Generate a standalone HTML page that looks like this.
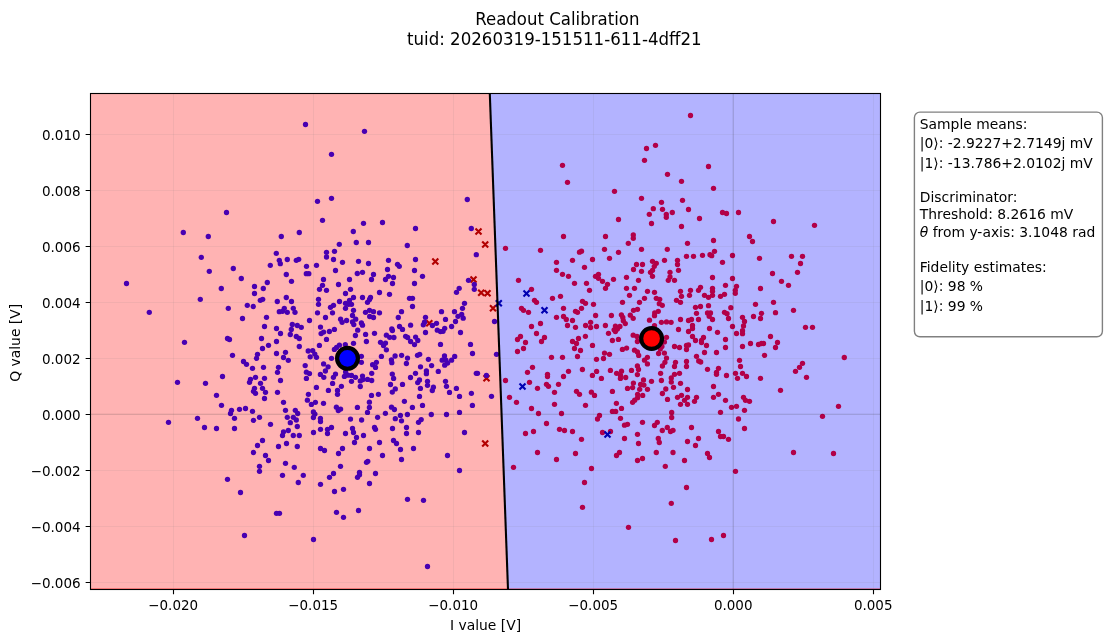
<!DOCTYPE html>
<html><head><meta charset="utf-8"><title>Readout Calibration</title>
<style>html,body{margin:0;padding:0;background:#fff;overflow:hidden}svg{display:block}</style></head>
<body>
<svg width="1106" height="642" viewBox="0 0 1106 642" style="display:block">
<rect width="1106" height="642" fill="#fff"/>
<polygon points="90.5,93.5 489.8,93.5 508.0,589.5 90.5,589.5" fill="#ffb3b3"/>
<polygon points="489.8,93.5 880.5,93.5 880.5,589.5 508.0,589.5" fill="#b3b3ff"/>
<line x1="90.5" y1="588.5" x2="880.5" y2="588.5" stroke="#ff0000" stroke-opacity="0.3" stroke-width="1"/>
<path d="M173.50,93.5V589.5M313.50,93.5V589.5M453.50,93.5V589.5M593.50,93.5V589.5M733.50,93.5V589.5M873.50,93.5V589.5" stroke="#808080" stroke-opacity="0.10" stroke-width="1.0" fill="none"/>
<path d="M90.5,134.50H880.5M90.5,190.50H880.5M90.5,246.50H880.5M90.5,302.50H880.5M90.5,358.50H880.5M90.5,414.50H880.5M90.5,470.50H880.5M90.5,526.50H880.5M90.5,582.50H880.5" stroke="#808080" stroke-opacity="0.10" stroke-width="1.0" fill="none"/>
<path d="M475.5,228.5L481.5,234.5M475.5,234.5L481.5,228.5M482.2,241.5L488.2,247.5M482.2,247.5L488.2,241.5M432.3,258.5L438.3,264.5M432.3,264.5L438.3,258.5M470.5,276.5L476.5,282.5M470.5,282.5L476.5,276.5M478.2,289.8L484.2,295.8M478.2,295.8L484.2,289.8M484.5,290.3L490.5,296.3M484.5,296.3L490.5,290.3M490.0,305.3L496.0,311.3M490.0,311.3L496.0,305.3M426.3,320.3L432.3,326.3M426.3,326.3L432.3,320.3M483.5,375.3L489.5,381.3M483.5,381.3L489.5,375.3M482.2,440.5L488.2,446.5M482.2,446.5L488.2,440.5" stroke="#b20000" stroke-width="2.15" fill="none"/>
<g fill="#4800b2">
<circle cx="305.5" cy="124.5" r="2.65"/>
<circle cx="364.5" cy="131.3" r="2.65"/>
<circle cx="331.5" cy="154.3" r="2.65"/>
<circle cx="331.5" cy="198.3" r="2.65"/>
<circle cx="317.5" cy="201.3" r="2.65"/>
<circle cx="467.3" cy="199.5" r="2.65"/>
<circle cx="226.5" cy="212.5" r="2.65"/>
<circle cx="183.3" cy="232.5" r="2.65"/>
<circle cx="208.3" cy="236.5" r="2.65"/>
<circle cx="281.3" cy="236.5" r="2.65"/>
<circle cx="299.3" cy="232.5" r="2.65"/>
<circle cx="201.3" cy="257.3" r="2.65"/>
<circle cx="276.3" cy="253.3" r="2.65"/>
<circle cx="279.3" cy="260.3" r="2.65"/>
<circle cx="280.3" cy="263.7" r="2.65"/>
<circle cx="287.3" cy="259.5" r="2.65"/>
<circle cx="296.3" cy="260.3" r="2.65"/>
<circle cx="298.7" cy="259.3" r="2.65"/>
<circle cx="270.3" cy="265.3" r="2.65"/>
<circle cx="233.3" cy="268.5" r="2.65"/>
<circle cx="209.3" cy="271.3" r="2.65"/>
<circle cx="286.3" cy="274.5" r="2.65"/>
<circle cx="241.3" cy="278.5" r="2.65"/>
<circle cx="291.5" cy="281.3" r="2.65"/>
<circle cx="267.3" cy="282.5" r="2.65"/>
<circle cx="126.5" cy="283.5" r="2.65"/>
<circle cx="254.5" cy="286.5" r="2.65"/>
<circle cx="263.3" cy="288.5" r="2.65"/>
<circle cx="221.3" cy="288.5" r="2.65"/>
<circle cx="254.5" cy="293.5" r="2.65"/>
<circle cx="200.3" cy="299.3" r="2.65"/>
<circle cx="260.3" cy="300.3" r="2.65"/>
<circle cx="262.7" cy="299.3" r="2.65"/>
<circle cx="286.3" cy="297.5" r="2.65"/>
<circle cx="277.3" cy="301.5" r="2.65"/>
<circle cx="291.5" cy="301.5" r="2.65"/>
<circle cx="247.3" cy="305.3" r="2.65"/>
<circle cx="253.3" cy="306.5" r="2.65"/>
<circle cx="228.3" cy="308.3" r="2.65"/>
<circle cx="293.3" cy="308.3" r="2.65"/>
<circle cx="284.3" cy="308.3" r="2.65"/>
<circle cx="279.3" cy="311.7" r="2.65"/>
<circle cx="282.5" cy="311.3" r="2.65"/>
<circle cx="149.3" cy="312.3" r="2.65"/>
<circle cx="287.3" cy="312.3" r="2.65"/>
<circle cx="295.0" cy="312.3" r="2.65"/>
<circle cx="322.5" cy="220.3" r="2.65"/>
<circle cx="363.5" cy="223.3" r="2.65"/>
<circle cx="382.5" cy="222.5" r="2.65"/>
<circle cx="415.5" cy="228.5" r="2.65"/>
<circle cx="353.3" cy="231.5" r="2.65"/>
<circle cx="471.3" cy="228.5" r="2.65"/>
<circle cx="356.3" cy="242.5" r="2.65"/>
<circle cx="368.5" cy="242.5" r="2.65"/>
<circle cx="339.3" cy="244.3" r="2.65"/>
<circle cx="407.3" cy="245.5" r="2.65"/>
<circle cx="334.5" cy="251.3" r="2.65"/>
<circle cx="326.5" cy="252.3" r="2.65"/>
<circle cx="326.5" cy="257.0" r="2.65"/>
<circle cx="476.3" cy="254.7" r="2.65"/>
<circle cx="333.5" cy="259.5" r="2.65"/>
<circle cx="342.5" cy="262.3" r="2.65"/>
<circle cx="358.5" cy="261.3" r="2.65"/>
<circle cx="368.5" cy="263.5" r="2.65"/>
<circle cx="388.5" cy="260.3" r="2.65"/>
<circle cx="415.5" cy="259.5" r="2.65"/>
<circle cx="397.5" cy="264.3" r="2.65"/>
<circle cx="399.3" cy="266.3" r="2.65"/>
<circle cx="316.5" cy="265.3" r="2.65"/>
<circle cx="306.5" cy="266.3" r="2.65"/>
<circle cx="335.5" cy="270.5" r="2.65"/>
<circle cx="387.5" cy="269.5" r="2.65"/>
<circle cx="414.5" cy="270.5" r="2.65"/>
<circle cx="306.3" cy="273.7" r="2.65"/>
<circle cx="308.8" cy="273.7" r="2.65"/>
<circle cx="357.3" cy="273.5" r="2.65"/>
<circle cx="362.5" cy="272.3" r="2.65"/>
<circle cx="373.5" cy="274.5" r="2.65"/>
<circle cx="422.5" cy="276.3" r="2.65"/>
<circle cx="388.5" cy="276.3" r="2.65"/>
<circle cx="393.5" cy="277.5" r="2.65"/>
<circle cx="385.5" cy="279.5" r="2.65"/>
<circle cx="371.5" cy="279.5" r="2.65"/>
<circle cx="349.5" cy="279.5" r="2.65"/>
<circle cx="323.5" cy="279.5" r="2.65"/>
<circle cx="468.5" cy="280.3" r="2.65"/>
<circle cx="392.5" cy="283.5" r="2.65"/>
<circle cx="414.5" cy="283.5" r="2.65"/>
<circle cx="338.5" cy="284.5" r="2.65"/>
<circle cx="322.5" cy="285.3" r="2.65"/>
<circle cx="474.3" cy="284.5" r="2.65"/>
<circle cx="319.5" cy="289.3" r="2.65"/>
<circle cx="326.5" cy="290.3" r="2.65"/>
<circle cx="350.5" cy="289.3" r="2.65"/>
<circle cx="459.2" cy="288.3" r="2.65"/>
<circle cx="474.3" cy="289.3" r="2.65"/>
<circle cx="456.5" cy="292.3" r="2.65"/>
<circle cx="379.5" cy="292.5" r="2.65"/>
<circle cx="389.5" cy="294.3" r="2.65"/>
<circle cx="345.5" cy="293.5" r="2.65"/>
<circle cx="353.5" cy="297.5" r="2.65"/>
<circle cx="362.5" cy="297.5" r="2.65"/>
<circle cx="370.5" cy="297.5" r="2.65"/>
<circle cx="369.5" cy="299.5" r="2.65"/>
<circle cx="367.5" cy="302.3" r="2.65"/>
<circle cx="409.5" cy="298.3" r="2.65"/>
<circle cx="412.5" cy="298.3" r="2.65"/>
<circle cx="318.5" cy="299.3" r="2.65"/>
<circle cx="349.5" cy="300.3" r="2.65"/>
<circle cx="339.5" cy="301.5" r="2.65"/>
<circle cx="318.5" cy="304.3" r="2.65"/>
<circle cx="464.5" cy="303.3" r="2.65"/>
<circle cx="345.5" cy="303.3" r="2.65"/>
<circle cx="348.5" cy="304.3" r="2.65"/>
<circle cx="351.5" cy="304.3" r="2.65"/>
<circle cx="333.5" cy="305.3" r="2.65"/>
<circle cx="330.5" cy="307.3" r="2.65"/>
<circle cx="412.5" cy="306.5" r="2.65"/>
<circle cx="345.5" cy="308.3" r="2.65"/>
<circle cx="462.5" cy="308.3" r="2.65"/>
<circle cx="353.5" cy="310.3" r="2.65"/>
<circle cx="401.5" cy="311.7" r="2.65"/>
<circle cx="441.5" cy="311.7" r="2.65"/>
<circle cx="454.5" cy="311.7" r="2.65"/>
<circle cx="369.5" cy="310.3" r="2.65"/>
<circle cx="373.5" cy="311.7" r="2.65"/>
<circle cx="365.5" cy="312.3" r="2.65"/>
<circle cx="379.5" cy="312.8" r="2.65"/>
<circle cx="317.5" cy="312.8" r="2.65"/>
<circle cx="332.5" cy="312.8" r="2.65"/>
<circle cx="242.5" cy="318.5" r="2.65"/>
<circle cx="266.5" cy="317.3" r="2.65"/>
<circle cx="264.5" cy="326.5" r="2.65"/>
<circle cx="276.5" cy="328.5" r="2.65"/>
<circle cx="292.3" cy="324.5" r="2.65"/>
<circle cx="297.3" cy="325.5" r="2.65"/>
<circle cx="301.3" cy="327.3" r="2.65"/>
<circle cx="291.3" cy="329.5" r="2.65"/>
<circle cx="280.5" cy="333.5" r="2.65"/>
<circle cx="290.3" cy="334.5" r="2.65"/>
<circle cx="296.3" cy="336.5" r="2.65"/>
<circle cx="299.3" cy="338.5" r="2.65"/>
<circle cx="227.5" cy="338.5" r="2.65"/>
<circle cx="229.5" cy="339.5" r="2.65"/>
<circle cx="184.5" cy="342.3" r="2.65"/>
<circle cx="261.5" cy="338.5" r="2.65"/>
<circle cx="276.5" cy="341.5" r="2.65"/>
<circle cx="268.5" cy="345.3" r="2.65"/>
<circle cx="299.3" cy="346.5" r="2.65"/>
<circle cx="262.5" cy="348.5" r="2.65"/>
<circle cx="232.5" cy="355.3" r="2.65"/>
<circle cx="257.5" cy="354.3" r="2.65"/>
<circle cx="256.5" cy="358.3" r="2.65"/>
<circle cx="276.5" cy="353.5" r="2.65"/>
<circle cx="285.5" cy="352.3" r="2.65"/>
<circle cx="283.5" cy="357.5" r="2.65"/>
<circle cx="288.3" cy="360.3" r="2.65"/>
<circle cx="243.5" cy="361.5" r="2.65"/>
<circle cx="246.5" cy="364.3" r="2.65"/>
<circle cx="252.5" cy="368.3" r="2.65"/>
<circle cx="263.5" cy="367.3" r="2.65"/>
<circle cx="278.5" cy="367.3" r="2.65"/>
<circle cx="277.5" cy="372.3" r="2.65"/>
<circle cx="222.5" cy="376.5" r="2.65"/>
<circle cx="255.5" cy="377.3" r="2.65"/>
<circle cx="250.5" cy="379.3" r="2.65"/>
<circle cx="264.5" cy="378.3" r="2.65"/>
<circle cx="280.5" cy="380.5" r="2.65"/>
<circle cx="249.5" cy="382.3" r="2.65"/>
<circle cx="260.5" cy="383.3" r="2.65"/>
<circle cx="177.5" cy="382.3" r="2.65"/>
<circle cx="205.5" cy="383.3" r="2.65"/>
<circle cx="254.5" cy="388.3" r="2.65"/>
<circle cx="262.5" cy="388.3" r="2.65"/>
<circle cx="253.5" cy="391.3" r="2.65"/>
<circle cx="255.5" cy="393.3" r="2.65"/>
<circle cx="265.5" cy="392.3" r="2.65"/>
<circle cx="277.5" cy="392.3" r="2.65"/>
<circle cx="216.5" cy="395.3" r="2.65"/>
<circle cx="264.5" cy="398.5" r="2.65"/>
<circle cx="283.5" cy="402.3" r="2.65"/>
<circle cx="221.5" cy="405.3" r="2.65"/>
<circle cx="231.5" cy="410.3" r="2.65"/>
<circle cx="239.5" cy="409.3" r="2.65"/>
<circle cx="245.5" cy="408.5" r="2.65"/>
<circle cx="252.5" cy="411.3" r="2.65"/>
<circle cx="285.5" cy="410.3" r="2.65"/>
<circle cx="295.3" cy="410.3" r="2.65"/>
<circle cx="297.7" cy="413.5" r="2.65"/>
<circle cx="230.5" cy="413.5" r="2.65"/>
<circle cx="197.5" cy="418.3" r="2.65"/>
<circle cx="234.5" cy="418.3" r="2.65"/>
<circle cx="259.5" cy="417.3" r="2.65"/>
<circle cx="287.3" cy="417.3" r="2.65"/>
<circle cx="293.3" cy="417.3" r="2.65"/>
<circle cx="168.5" cy="422.3" r="2.65"/>
<circle cx="253.5" cy="420.3" r="2.65"/>
<circle cx="296.3" cy="420.0" r="2.65"/>
<circle cx="325.5" cy="317.5" r="2.65"/>
<circle cx="352.5" cy="315.5" r="2.65"/>
<circle cx="369.7" cy="316.5" r="2.65"/>
<circle cx="373.5" cy="317.5" r="2.65"/>
<circle cx="309.5" cy="320.5" r="2.65"/>
<circle cx="340.6" cy="319.2" r="2.65"/>
<circle cx="346.6" cy="320.5" r="2.65"/>
<circle cx="342.1" cy="322.3" r="2.65"/>
<circle cx="355.7" cy="319.2" r="2.65"/>
<circle cx="352.5" cy="321.9" r="2.65"/>
<circle cx="353.8" cy="324.6" r="2.65"/>
<circle cx="361.4" cy="323.0" r="2.65"/>
<circle cx="362.5" cy="325.2" r="2.65"/>
<circle cx="320.5" cy="327.1" r="2.65"/>
<circle cx="334.4" cy="329.4" r="2.65"/>
<circle cx="329.4" cy="331.5" r="2.65"/>
<circle cx="323.6" cy="332.1" r="2.65"/>
<circle cx="321.1" cy="333.6" r="2.65"/>
<circle cx="357.7" cy="330.2" r="2.65"/>
<circle cx="355.4" cy="335.5" r="2.65"/>
<circle cx="365.6" cy="334.4" r="2.65"/>
<circle cx="374.5" cy="333.3" r="2.65"/>
<circle cx="391.8" cy="329.0" r="2.65"/>
<circle cx="392.4" cy="330.5" r="2.65"/>
<circle cx="386.4" cy="335.2" r="2.65"/>
<circle cx="389.7" cy="337.3" r="2.65"/>
<circle cx="393.9" cy="337.5" r="2.65"/>
<circle cx="326.5" cy="339.4" r="2.65"/>
<circle cx="366.4" cy="341.5" r="2.65"/>
<circle cx="353.5" cy="343.3" r="2.65"/>
<circle cx="380.5" cy="342.3" r="2.65"/>
<circle cx="385.5" cy="343.1" r="2.65"/>
<circle cx="383.5" cy="345.6" r="2.65"/>
<circle cx="386.4" cy="349.8" r="2.65"/>
<circle cx="319.4" cy="345.4" r="2.65"/>
<circle cx="339.4" cy="345.2" r="2.65"/>
<circle cx="345.3" cy="344.6" r="2.65"/>
<circle cx="334.4" cy="349.4" r="2.65"/>
<circle cx="336.6" cy="347.4" r="2.65"/>
<circle cx="308.2" cy="351.0" r="2.65"/>
<circle cx="312.7" cy="350.6" r="2.65"/>
<circle cx="314.8" cy="354.1" r="2.65"/>
<circle cx="310.2" cy="356.8" r="2.65"/>
<circle cx="316.5" cy="357.3" r="2.65"/>
<circle cx="331.5" cy="358.3" r="2.65"/>
<circle cx="361.4" cy="356.3" r="2.65"/>
<circle cx="381.4" cy="356.4" r="2.65"/>
<circle cx="395.1" cy="356.0" r="2.65"/>
<circle cx="361.4" cy="362.3" r="2.65"/>
<circle cx="323.6" cy="363.9" r="2.65"/>
<circle cx="376.4" cy="362.3" r="2.65"/>
<circle cx="372.6" cy="364.7" r="2.65"/>
<circle cx="391.4" cy="359.8" r="2.65"/>
<circle cx="391.8" cy="362.7" r="2.65"/>
<circle cx="305.2" cy="365.6" r="2.65"/>
<circle cx="328.1" cy="366.8" r="2.65"/>
<circle cx="398.3" cy="317.5" r="2.65"/>
<circle cx="425.5" cy="317.3" r="2.65"/>
<circle cx="445.5" cy="319.4" r="2.65"/>
<circle cx="458.0" cy="316.3" r="2.65"/>
<circle cx="461.7" cy="314.4" r="2.65"/>
<circle cx="463.2" cy="318.2" r="2.65"/>
<circle cx="455.5" cy="321.5" r="2.65"/>
<circle cx="424.5" cy="322.2" r="2.65"/>
<circle cx="423.3" cy="324.8" r="2.65"/>
<circle cx="436.5" cy="323.3" r="2.65"/>
<circle cx="432.4" cy="325.5" r="2.65"/>
<circle cx="399.5" cy="326.5" r="2.65"/>
<circle cx="402.5" cy="329.4" r="2.65"/>
<circle cx="410.6" cy="325.2" r="2.65"/>
<circle cx="451.6" cy="326.5" r="2.65"/>
<circle cx="444.7" cy="328.3" r="2.65"/>
<circle cx="437.3" cy="330.2" r="2.65"/>
<circle cx="440.5" cy="331.6" r="2.65"/>
<circle cx="443.0" cy="331.3" r="2.65"/>
<circle cx="425.5" cy="332.5" r="2.65"/>
<circle cx="460.5" cy="332.5" r="2.65"/>
<circle cx="405.6" cy="336.3" r="2.65"/>
<circle cx="407.6" cy="337.5" r="2.65"/>
<circle cx="415.6" cy="337.1" r="2.65"/>
<circle cx="417.8" cy="340.5" r="2.65"/>
<circle cx="410.6" cy="341.5" r="2.65"/>
<circle cx="414.5" cy="344.6" r="2.65"/>
<circle cx="440.5" cy="344.4" r="2.65"/>
<circle cx="470.5" cy="344.4" r="2.65"/>
<circle cx="472.5" cy="353.5" r="2.65"/>
<circle cx="401.6" cy="355.3" r="2.65"/>
<circle cx="407.5" cy="358.1" r="2.65"/>
<circle cx="406.4" cy="363.5" r="2.65"/>
<circle cx="417.5" cy="355.3" r="2.65"/>
<circle cx="419.7" cy="354.3" r="2.65"/>
<circle cx="428.4" cy="359.3" r="2.65"/>
<circle cx="444.5" cy="356.0" r="2.65"/>
<circle cx="454.7" cy="356.4" r="2.65"/>
<circle cx="442.2" cy="360.2" r="2.65"/>
<circle cx="445.9" cy="360.2" r="2.65"/>
<circle cx="451.6" cy="360.2" r="2.65"/>
<circle cx="447.6" cy="363.1" r="2.65"/>
<circle cx="444.7" cy="365.2" r="2.65"/>
<circle cx="431.6" cy="365.6" r="2.65"/>
<circle cx="420.5" cy="366.8" r="2.65"/>
<circle cx="306.4" cy="372.2" r="2.65"/>
<circle cx="309.5" cy="373.6" r="2.65"/>
<circle cx="306.4" cy="378.4" r="2.65"/>
<circle cx="325.4" cy="371.0" r="2.65"/>
<circle cx="320.4" cy="374.4" r="2.65"/>
<circle cx="323.8" cy="377.3" r="2.65"/>
<circle cx="335.5" cy="374.1" r="2.65"/>
<circle cx="333.4" cy="377.3" r="2.65"/>
<circle cx="344.4" cy="376.4" r="2.65"/>
<circle cx="347.9" cy="375.2" r="2.65"/>
<circle cx="345.6" cy="372.0" r="2.65"/>
<circle cx="351.5" cy="375.4" r="2.65"/>
<circle cx="355.5" cy="377.3" r="2.65"/>
<circle cx="351.5" cy="381.3" r="2.65"/>
<circle cx="362.5" cy="376.1" r="2.65"/>
<circle cx="360.3" cy="380.9" r="2.65"/>
<circle cx="362.9" cy="379.6" r="2.65"/>
<circle cx="367.5" cy="379.4" r="2.65"/>
<circle cx="371.7" cy="380.5" r="2.65"/>
<circle cx="371.7" cy="373.3" r="2.65"/>
<circle cx="360.3" cy="386.5" r="2.65"/>
<circle cx="375.5" cy="367.4" r="2.65"/>
<circle cx="392.3" cy="374.1" r="2.65"/>
<circle cx="393.6" cy="378.4" r="2.65"/>
<circle cx="390.5" cy="384.5" r="2.65"/>
<circle cx="395.3" cy="388.9" r="2.65"/>
<circle cx="392.3" cy="392.1" r="2.65"/>
<circle cx="332.6" cy="383.4" r="2.65"/>
<circle cx="316.4" cy="387.4" r="2.65"/>
<circle cx="341.4" cy="386.3" r="2.65"/>
<circle cx="328.4" cy="390.4" r="2.65"/>
<circle cx="337.5" cy="390.5" r="2.65"/>
<circle cx="337.5" cy="394.3" r="2.65"/>
<circle cx="308.4" cy="394.3" r="2.65"/>
<circle cx="371.5" cy="395.4" r="2.65"/>
<circle cx="378.4" cy="394.3" r="2.65"/>
<circle cx="307.4" cy="400.2" r="2.65"/>
<circle cx="315.4" cy="402.3" r="2.65"/>
<circle cx="311.4" cy="404.4" r="2.65"/>
<circle cx="323.5" cy="403.3" r="2.65"/>
<circle cx="369.4" cy="402.2" r="2.65"/>
<circle cx="369.4" cy="407.4" r="2.65"/>
<circle cx="367.5" cy="412.4" r="2.65"/>
<circle cx="357.4" cy="407.4" r="2.65"/>
<circle cx="336.4" cy="407.2" r="2.65"/>
<circle cx="340.6" cy="409.1" r="2.65"/>
<circle cx="338.3" cy="410.6" r="2.65"/>
<circle cx="391.5" cy="407.2" r="2.65"/>
<circle cx="394.4" cy="409.5" r="2.65"/>
<circle cx="385.4" cy="413.3" r="2.65"/>
<circle cx="377.6" cy="417.3" r="2.65"/>
<circle cx="313.4" cy="412.0" r="2.65"/>
<circle cx="314.9" cy="414.1" r="2.65"/>
<circle cx="313.4" cy="417.5" r="2.65"/>
<circle cx="320.4" cy="418.3" r="2.65"/>
<circle cx="350.5" cy="419.1" r="2.65"/>
<circle cx="361.6" cy="420.0" r="2.65"/>
<circle cx="395.3" cy="418.7" r="2.65"/>
<circle cx="426.4" cy="371.0" r="2.65"/>
<circle cx="426.4" cy="373.7" r="2.65"/>
<circle cx="438.3" cy="371.4" r="2.65"/>
<circle cx="415.5" cy="373.3" r="2.65"/>
<circle cx="410.5" cy="377.5" r="2.65"/>
<circle cx="476.3" cy="373.3" r="2.65"/>
<circle cx="477.5" cy="373.3" r="2.65"/>
<circle cx="486.4" cy="375.4" r="2.65"/>
<circle cx="419.5" cy="380.0" r="2.65"/>
<circle cx="417.7" cy="382.6" r="2.65"/>
<circle cx="427.5" cy="381.3" r="2.65"/>
<circle cx="427.5" cy="385.3" r="2.65"/>
<circle cx="420.4" cy="388.4" r="2.65"/>
<circle cx="433.4" cy="387.2" r="2.65"/>
<circle cx="432.3" cy="390.5" r="2.65"/>
<circle cx="445.5" cy="381.3" r="2.65"/>
<circle cx="446.5" cy="386.3" r="2.65"/>
<circle cx="449.5" cy="392.4" r="2.65"/>
<circle cx="456.4" cy="388.4" r="2.65"/>
<circle cx="459.5" cy="396.4" r="2.65"/>
<circle cx="471.4" cy="393.3" r="2.65"/>
<circle cx="402.5" cy="384.4" r="2.65"/>
<circle cx="419.5" cy="396.4" r="2.65"/>
<circle cx="404.4" cy="401.3" r="2.65"/>
<circle cx="422.5" cy="405.4" r="2.65"/>
<circle cx="412.4" cy="407.4" r="2.65"/>
<circle cx="472.4" cy="405.4" r="2.65"/>
<circle cx="459.5" cy="412.4" r="2.65"/>
<circle cx="446.5" cy="414.5" r="2.65"/>
<circle cx="431.3" cy="414.5" r="2.65"/>
<circle cx="407.4" cy="414.5" r="2.65"/>
<circle cx="400.4" cy="415.4" r="2.65"/>
<circle cx="401.5" cy="420.8" r="2.65"/>
<circle cx="421.2" cy="419.6" r="2.65"/>
<circle cx="494.5" cy="321.5" r="2.65"/>
<circle cx="496.5" cy="354.3" r="2.65"/>
<circle cx="491.5" cy="396.3" r="2.65"/>
<circle cx="270.5" cy="424.3" r="2.65"/>
<circle cx="290.3" cy="422.7" r="2.65"/>
<circle cx="297.3" cy="426.5" r="2.65"/>
<circle cx="204.5" cy="427.5" r="2.65"/>
<circle cx="216.5" cy="428.5" r="2.65"/>
<circle cx="234.5" cy="428.5" r="2.65"/>
<circle cx="288.3" cy="430.5" r="2.65"/>
<circle cx="283.5" cy="431.8" r="2.65"/>
<circle cx="282.5" cy="435.5" r="2.65"/>
<circle cx="293.3" cy="435.5" r="2.65"/>
<circle cx="299.3" cy="435.5" r="2.65"/>
<circle cx="262.5" cy="440.5" r="2.65"/>
<circle cx="257.5" cy="445.5" r="2.65"/>
<circle cx="286.5" cy="443.5" r="2.65"/>
<circle cx="278.5" cy="446.5" r="2.65"/>
<circle cx="297.3" cy="446.5" r="2.65"/>
<circle cx="253.5" cy="452.5" r="2.65"/>
<circle cx="265.5" cy="455.5" r="2.65"/>
<circle cx="268.5" cy="460.5" r="2.65"/>
<circle cx="259.5" cy="466.3" r="2.65"/>
<circle cx="259.5" cy="471.3" r="2.65"/>
<circle cx="285.5" cy="463.3" r="2.65"/>
<circle cx="294.3" cy="467.3" r="2.65"/>
<circle cx="282.5" cy="475.3" r="2.65"/>
<circle cx="303.3" cy="475.3" r="2.65"/>
<circle cx="298.3" cy="482.5" r="2.65"/>
<circle cx="227.5" cy="479.3" r="2.65"/>
<circle cx="240.5" cy="492.5" r="2.65"/>
<circle cx="276.5" cy="513.3" r="2.65"/>
<circle cx="279.5" cy="513.3" r="2.65"/>
<circle cx="418.5" cy="422.3" r="2.65"/>
<circle cx="320.5" cy="421.5" r="2.65"/>
<circle cx="313.5" cy="432.5" r="2.65"/>
<circle cx="320.5" cy="429.3" r="2.65"/>
<circle cx="327.5" cy="429.3" r="2.65"/>
<circle cx="331.5" cy="427.5" r="2.65"/>
<circle cx="327.5" cy="433.5" r="2.65"/>
<circle cx="345.5" cy="433.5" r="2.65"/>
<circle cx="352.5" cy="428.5" r="2.65"/>
<circle cx="353.5" cy="432.5" r="2.65"/>
<circle cx="356.5" cy="437.5" r="2.65"/>
<circle cx="363.5" cy="435.5" r="2.65"/>
<circle cx="354.5" cy="442.5" r="2.65"/>
<circle cx="374.5" cy="427.5" r="2.65"/>
<circle cx="375.5" cy="429.3" r="2.65"/>
<circle cx="392.5" cy="428.5" r="2.65"/>
<circle cx="406.5" cy="427.5" r="2.65"/>
<circle cx="406.5" cy="433.5" r="2.65"/>
<circle cx="418.5" cy="432.5" r="2.65"/>
<circle cx="464.5" cy="432.5" r="2.65"/>
<circle cx="379.5" cy="442.5" r="2.65"/>
<circle cx="393.5" cy="440.5" r="2.65"/>
<circle cx="396.5" cy="443.5" r="2.65"/>
<circle cx="400.5" cy="449.5" r="2.65"/>
<circle cx="413.5" cy="448.5" r="2.65"/>
<circle cx="369.5" cy="448.5" r="2.65"/>
<circle cx="382.5" cy="455.5" r="2.65"/>
<circle cx="401.5" cy="459.5" r="2.65"/>
<circle cx="447.5" cy="455.5" r="2.65"/>
<circle cx="320.5" cy="448.5" r="2.65"/>
<circle cx="324.5" cy="450.5" r="2.65"/>
<circle cx="342.5" cy="448.5" r="2.65"/>
<circle cx="338.5" cy="453.5" r="2.65"/>
<circle cx="366.5" cy="462.3" r="2.65"/>
<circle cx="367.8" cy="461.3" r="2.65"/>
<circle cx="340.5" cy="466.3" r="2.65"/>
<circle cx="459.5" cy="470.5" r="2.65"/>
<circle cx="333.5" cy="473.5" r="2.65"/>
<circle cx="329.5" cy="477.3" r="2.65"/>
<circle cx="359.5" cy="472.3" r="2.65"/>
<circle cx="359.5" cy="474.7" r="2.65"/>
<circle cx="357.5" cy="477.3" r="2.65"/>
<circle cx="375.5" cy="473.5" r="2.65"/>
<circle cx="369.5" cy="483.5" r="2.65"/>
<circle cx="320.5" cy="484.3" r="2.65"/>
<circle cx="343.5" cy="489.3" r="2.65"/>
<circle cx="334.5" cy="491.5" r="2.65"/>
<circle cx="407.5" cy="499.3" r="2.65"/>
<circle cx="423.5" cy="500.3" r="2.65"/>
<circle cx="358.5" cy="510.5" r="2.65"/>
<circle cx="336.5" cy="512.3" r="2.65"/>
<circle cx="343.5" cy="517.3" r="2.65"/>
<circle cx="244.5" cy="535.5" r="2.65"/>
<circle cx="313.5" cy="539.5" r="2.65"/>
<circle cx="427.5" cy="566.5" r="2.65"/>
</g>
<g fill="#b20048">
<circle cx="690.5" cy="115.5" r="2.65"/>
<circle cx="655.5" cy="145.3" r="2.65"/>
<circle cx="646.5" cy="148.5" r="2.65"/>
<circle cx="644.5" cy="160.3" r="2.65"/>
<circle cx="562.5" cy="165.3" r="2.65"/>
<circle cx="708.5" cy="166.5" r="2.65"/>
<circle cx="667.5" cy="174.3" r="2.65"/>
<circle cx="681.5" cy="181.3" r="2.65"/>
<circle cx="567.5" cy="182.3" r="2.65"/>
<circle cx="713.5" cy="188.3" r="2.65"/>
<circle cx="614.5" cy="191.3" r="2.65"/>
<circle cx="641.5" cy="198.3" r="2.65"/>
<circle cx="682.5" cy="200.3" r="2.65"/>
<circle cx="661.5" cy="202.3" r="2.65"/>
<circle cx="653.3" cy="208.7" r="2.65"/>
<circle cx="662.5" cy="209.3" r="2.65"/>
<circle cx="672.3" cy="212.5" r="2.65"/>
<circle cx="649.3" cy="214.3" r="2.65"/>
<circle cx="666.3" cy="214.5" r="2.65"/>
<circle cx="666.3" cy="217.3" r="2.65"/>
<circle cx="651.5" cy="223.5" r="2.65"/>
<circle cx="618.5" cy="219.5" r="2.65"/>
<circle cx="563.5" cy="236.5" r="2.65"/>
<circle cx="605.5" cy="236.5" r="2.65"/>
<circle cx="633.3" cy="235.0" r="2.65"/>
<circle cx="633.3" cy="238.3" r="2.65"/>
<circle cx="628.3" cy="243.3" r="2.65"/>
<circle cx="505.5" cy="248.3" r="2.65"/>
<circle cx="540.5" cy="250.3" r="2.65"/>
<circle cx="604.5" cy="249.3" r="2.65"/>
<circle cx="618.5" cy="252.3" r="2.65"/>
<circle cx="641.5" cy="249.3" r="2.65"/>
<circle cx="667.3" cy="249.3" r="2.65"/>
<circle cx="579.5" cy="252.2" r="2.65"/>
<circle cx="581.5" cy="251.2" r="2.65"/>
<circle cx="609.5" cy="258.3" r="2.65"/>
<circle cx="592.5" cy="259.5" r="2.65"/>
<circle cx="572.5" cy="260.3" r="2.65"/>
<circle cx="556.5" cy="262.3" r="2.65"/>
<circle cx="664.5" cy="260.3" r="2.65"/>
<circle cx="652.5" cy="261.3" r="2.65"/>
<circle cx="656.3" cy="263.3" r="2.65"/>
<circle cx="654.3" cy="266.3" r="2.65"/>
<circle cx="636.5" cy="264.5" r="2.65"/>
<circle cx="642.5" cy="264.5" r="2.65"/>
<circle cx="584.5" cy="267.3" r="2.65"/>
<circle cx="556.5" cy="270.3" r="2.65"/>
<circle cx="633.5" cy="269.5" r="2.65"/>
<circle cx="641.5" cy="271.3" r="2.65"/>
<circle cx="652.5" cy="270.3" r="2.65"/>
<circle cx="650.5" cy="272.3" r="2.65"/>
<circle cx="670.0" cy="272.3" r="2.65"/>
<circle cx="652.5" cy="276.3" r="2.65"/>
<circle cx="562.5" cy="274.3" r="2.65"/>
<circle cx="568.5" cy="276.3" r="2.65"/>
<circle cx="598.5" cy="274.3" r="2.65"/>
<circle cx="595.5" cy="276.3" r="2.65"/>
<circle cx="598.5" cy="278.3" r="2.65"/>
<circle cx="602.5" cy="281.3" r="2.65"/>
<circle cx="613.5" cy="279.3" r="2.65"/>
<circle cx="626.5" cy="277.3" r="2.65"/>
<circle cx="638.5" cy="280.3" r="2.65"/>
<circle cx="670.0" cy="277.0" r="2.65"/>
<circle cx="668.3" cy="280.3" r="2.65"/>
<circle cx="518.5" cy="280.3" r="2.65"/>
<circle cx="574.5" cy="283.3" r="2.65"/>
<circle cx="586.5" cy="283.3" r="2.65"/>
<circle cx="607.5" cy="284.3" r="2.65"/>
<circle cx="605.5" cy="288.3" r="2.65"/>
<circle cx="589.5" cy="290.3" r="2.65"/>
<circle cx="626.5" cy="288.3" r="2.65"/>
<circle cx="634.5" cy="288.3" r="2.65"/>
<circle cx="531.5" cy="289.3" r="2.65"/>
<circle cx="647.5" cy="291.3" r="2.65"/>
<circle cx="654.5" cy="292.3" r="2.65"/>
<circle cx="629.5" cy="295.3" r="2.65"/>
<circle cx="560.5" cy="296.3" r="2.65"/>
<circle cx="552.5" cy="298.3" r="2.65"/>
<circle cx="644.5" cy="298.3" r="2.65"/>
<circle cx="656.3" cy="298.3" r="2.65"/>
<circle cx="659.7" cy="299.3" r="2.65"/>
<circle cx="534.5" cy="300.3" r="2.65"/>
<circle cx="536.5" cy="302.3" r="2.65"/>
<circle cx="582.5" cy="301.3" r="2.65"/>
<circle cx="585.5" cy="303.3" r="2.65"/>
<circle cx="593.5" cy="304.3" r="2.65"/>
<circle cx="622.5" cy="302.3" r="2.65"/>
<circle cx="639.5" cy="302.3" r="2.65"/>
<circle cx="659.3" cy="303.7" r="2.65"/>
<circle cx="662.3" cy="305.3" r="2.65"/>
<circle cx="521.5" cy="308.3" r="2.65"/>
<circle cx="523.5" cy="310.3" r="2.65"/>
<circle cx="528.5" cy="312.3" r="2.65"/>
<circle cx="563.5" cy="308.3" r="2.65"/>
<circle cx="581.5" cy="308.3" r="2.65"/>
<circle cx="575.5" cy="311.3" r="2.65"/>
<circle cx="577.5" cy="312.3" r="2.65"/>
<circle cx="633.5" cy="310.3" r="2.65"/>
<circle cx="637.5" cy="309.3" r="2.65"/>
<circle cx="658.3" cy="311.3" r="2.65"/>
<circle cx="654.7" cy="313.0" r="2.65"/>
<circle cx="688.5" cy="209.5" r="2.65"/>
<circle cx="722.5" cy="212.5" r="2.65"/>
<circle cx="726.5" cy="213.5" r="2.65"/>
<circle cx="738.5" cy="212.5" r="2.65"/>
<circle cx="699.5" cy="218.5" r="2.65"/>
<circle cx="773.5" cy="221.5" r="2.65"/>
<circle cx="814.5" cy="225.3" r="2.65"/>
<circle cx="681.5" cy="226.5" r="2.65"/>
<circle cx="749.5" cy="236.5" r="2.65"/>
<circle cx="752.5" cy="241.5" r="2.65"/>
<circle cx="713.5" cy="240.5" r="2.65"/>
<circle cx="687.5" cy="243.3" r="2.65"/>
<circle cx="714.5" cy="251.3" r="2.65"/>
<circle cx="710.0" cy="254.7" r="2.65"/>
<circle cx="711.7" cy="255.7" r="2.65"/>
<circle cx="702.5" cy="255.3" r="2.65"/>
<circle cx="693.5" cy="256.3" r="2.65"/>
<circle cx="686.5" cy="256.3" r="2.65"/>
<circle cx="732.5" cy="255.5" r="2.65"/>
<circle cx="759.5" cy="258.3" r="2.65"/>
<circle cx="791.5" cy="256.3" r="2.65"/>
<circle cx="802.5" cy="256.3" r="2.65"/>
<circle cx="677.5" cy="260.3" r="2.65"/>
<circle cx="677.5" cy="264.5" r="2.65"/>
<circle cx="722.5" cy="262.3" r="2.65"/>
<circle cx="800.5" cy="263.5" r="2.65"/>
<circle cx="678.5" cy="270.3" r="2.65"/>
<circle cx="772.5" cy="273.5" r="2.65"/>
<circle cx="797.5" cy="272.3" r="2.65"/>
<circle cx="712.5" cy="277.5" r="2.65"/>
<circle cx="732.5" cy="278.5" r="2.65"/>
<circle cx="674.5" cy="280.3" r="2.65"/>
<circle cx="781.5" cy="281.3" r="2.65"/>
<circle cx="788.5" cy="285.3" r="2.65"/>
<circle cx="725.5" cy="285.3" r="2.65"/>
<circle cx="736.5" cy="286.3" r="2.65"/>
<circle cx="735.3" cy="290.3" r="2.65"/>
<circle cx="735.3" cy="293.3" r="2.65"/>
<circle cx="760.5" cy="288.5" r="2.65"/>
<circle cx="700.5" cy="287.3" r="2.65"/>
<circle cx="698.5" cy="290.3" r="2.65"/>
<circle cx="712.5" cy="288.3" r="2.65"/>
<circle cx="712.5" cy="291.3" r="2.65"/>
<circle cx="690.5" cy="290.3" r="2.65"/>
<circle cx="680.5" cy="291.3" r="2.65"/>
<circle cx="689.5" cy="295.3" r="2.65"/>
<circle cx="681.5" cy="296.3" r="2.65"/>
<circle cx="704.5" cy="295.3" r="2.65"/>
<circle cx="708.5" cy="297.3" r="2.65"/>
<circle cx="712.5" cy="295.3" r="2.65"/>
<circle cx="720.5" cy="296.3" r="2.65"/>
<circle cx="724.5" cy="294.3" r="2.65"/>
<circle cx="676.5" cy="300.3" r="2.65"/>
<circle cx="680.5" cy="302.3" r="2.65"/>
<circle cx="755.5" cy="304.3" r="2.65"/>
<circle cx="773.5" cy="302.3" r="2.65"/>
<circle cx="708.5" cy="305.7" r="2.65"/>
<circle cx="700.5" cy="306.5" r="2.65"/>
<circle cx="695.5" cy="307.3" r="2.65"/>
<circle cx="730.8" cy="307.7" r="2.65"/>
<circle cx="793.5" cy="310.3" r="2.65"/>
<circle cx="696.5" cy="313.3" r="2.65"/>
<circle cx="707.5" cy="313.0" r="2.65"/>
<circle cx="710.5" cy="313.0" r="2.65"/>
<circle cx="724.5" cy="312.3" r="2.65"/>
<circle cx="761.5" cy="313.3" r="2.65"/>
<circle cx="775.5" cy="312.7" r="2.65"/>
<circle cx="556.5" cy="317.3" r="2.65"/>
<circle cx="563.5" cy="316.5" r="2.65"/>
<circle cx="566.3" cy="319.5" r="2.65"/>
<circle cx="572.5" cy="320.5" r="2.65"/>
<circle cx="540.5" cy="323.5" r="2.65"/>
<circle cx="531.5" cy="326.5" r="2.65"/>
<circle cx="567.5" cy="325.5" r="2.65"/>
<circle cx="575.5" cy="327.3" r="2.65"/>
<circle cx="520.5" cy="336.5" r="2.65"/>
<circle cx="517.5" cy="339.5" r="2.65"/>
<circle cx="536.5" cy="333.5" r="2.65"/>
<circle cx="544.5" cy="337.5" r="2.65"/>
<circle cx="541.5" cy="341.5" r="2.65"/>
<circle cx="525.5" cy="342.5" r="2.65"/>
<circle cx="523.5" cy="348.5" r="2.65"/>
<circle cx="517.5" cy="351.5" r="2.65"/>
<circle cx="578.5" cy="338.5" r="2.65"/>
<circle cx="572.5" cy="341.5" r="2.65"/>
<circle cx="576.5" cy="343.5" r="2.65"/>
<circle cx="574.5" cy="348.5" r="2.65"/>
<circle cx="580.5" cy="350.5" r="2.65"/>
<circle cx="577.5" cy="356.5" r="2.65"/>
<circle cx="551.5" cy="357.3" r="2.65"/>
<circle cx="562.5" cy="357.3" r="2.65"/>
<circle cx="532.5" cy="367.3" r="2.65"/>
<circle cx="527.5" cy="372.3" r="2.65"/>
<circle cx="547.5" cy="374.3" r="2.65"/>
<circle cx="547.5" cy="376.5" r="2.65"/>
<circle cx="568.5" cy="371.3" r="2.65"/>
<circle cx="563.5" cy="376.5" r="2.65"/>
<circle cx="505.5" cy="380.5" r="2.65"/>
<circle cx="529.5" cy="382.3" r="2.65"/>
<circle cx="537.5" cy="388.3" r="2.65"/>
<circle cx="546.5" cy="384.3" r="2.65"/>
<circle cx="548.5" cy="386.3" r="2.65"/>
<circle cx="558.5" cy="384.3" r="2.65"/>
<circle cx="554.5" cy="392.3" r="2.65"/>
<circle cx="576.5" cy="391.3" r="2.65"/>
<circle cx="579.5" cy="394.3" r="2.65"/>
<circle cx="509.5" cy="397.3" r="2.65"/>
<circle cx="516.5" cy="402.3" r="2.65"/>
<circle cx="554.5" cy="404.3" r="2.65"/>
<circle cx="531.5" cy="408.5" r="2.65"/>
<circle cx="538.5" cy="413.5" r="2.65"/>
<circle cx="561.5" cy="413.5" r="2.65"/>
<circle cx="595.6" cy="315.5" r="2.65"/>
<circle cx="611.4" cy="315.5" r="2.65"/>
<circle cx="621.4" cy="314.8" r="2.65"/>
<circle cx="622.8" cy="317.5" r="2.65"/>
<circle cx="623.3" cy="320.7" r="2.65"/>
<circle cx="625.3" cy="323.6" r="2.65"/>
<circle cx="630.3" cy="315.2" r="2.65"/>
<circle cx="633.2" cy="318.3" r="2.65"/>
<circle cx="654.5" cy="315.7" r="2.65"/>
<circle cx="649.5" cy="320.2" r="2.65"/>
<circle cx="590.6" cy="322.3" r="2.65"/>
<circle cx="585.6" cy="325.5" r="2.65"/>
<circle cx="590.6" cy="327.5" r="2.65"/>
<circle cx="596.5" cy="326.5" r="2.65"/>
<circle cx="605.4" cy="325.5" r="2.65"/>
<circle cx="615.4" cy="326.1" r="2.65"/>
<circle cx="619.9" cy="326.5" r="2.65"/>
<circle cx="614.1" cy="329.8" r="2.65"/>
<circle cx="617.4" cy="329.0" r="2.65"/>
<circle cx="615.4" cy="331.5" r="2.65"/>
<circle cx="661.4" cy="322.3" r="2.65"/>
<circle cx="666.5" cy="321.9" r="2.65"/>
<circle cx="671.1" cy="322.3" r="2.65"/>
<circle cx="654.5" cy="325.6" r="2.65"/>
<circle cx="608.5" cy="333.3" r="2.65"/>
<circle cx="585.4" cy="336.3" r="2.65"/>
<circle cx="612.4" cy="340.5" r="2.65"/>
<circle cx="618.4" cy="339.4" r="2.65"/>
<circle cx="592.5" cy="345.4" r="2.65"/>
<circle cx="633.2" cy="335.2" r="2.65"/>
<circle cx="637.0" cy="336.5" r="2.65"/>
<circle cx="637.4" cy="341.5" r="2.65"/>
<circle cx="666.5" cy="337.3" r="2.65"/>
<circle cx="664.4" cy="341.9" r="2.65"/>
<circle cx="661.9" cy="346.4" r="2.65"/>
<circle cx="660.3" cy="348.9" r="2.65"/>
<circle cx="622.4" cy="349.4" r="2.65"/>
<circle cx="626.6" cy="348.1" r="2.65"/>
<circle cx="634.5" cy="350.2" r="2.65"/>
<circle cx="637.4" cy="351.9" r="2.65"/>
<circle cx="638.7" cy="355.4" r="2.65"/>
<circle cx="604.5" cy="353.1" r="2.65"/>
<circle cx="609.5" cy="354.3" r="2.65"/>
<circle cx="603.5" cy="358.5" r="2.65"/>
<circle cx="596.5" cy="359.3" r="2.65"/>
<circle cx="658.6" cy="353.5" r="2.65"/>
<circle cx="664.4" cy="353.1" r="2.65"/>
<circle cx="666.5" cy="358.1" r="2.65"/>
<circle cx="664.9" cy="362.3" r="2.65"/>
<circle cx="662.4" cy="366.0" r="2.65"/>
<circle cx="647.4" cy="357.3" r="2.65"/>
<circle cx="644.5" cy="360.2" r="2.65"/>
<circle cx="647.4" cy="363.9" r="2.65"/>
<circle cx="637.4" cy="366.0" r="2.65"/>
<circle cx="582.4" cy="369.5" r="2.65"/>
<circle cx="596.6" cy="371.4" r="2.65"/>
<circle cx="592.4" cy="375.4" r="2.65"/>
<circle cx="601.4" cy="378.4" r="2.65"/>
<circle cx="610.4" cy="370.4" r="2.65"/>
<circle cx="616.6" cy="373.3" r="2.65"/>
<circle cx="621.5" cy="371.2" r="2.65"/>
<circle cx="620.5" cy="375.4" r="2.65"/>
<circle cx="620.4" cy="378.4" r="2.65"/>
<circle cx="625.7" cy="377.5" r="2.65"/>
<circle cx="631.5" cy="370.4" r="2.65"/>
<circle cx="638.5" cy="369.4" r="2.65"/>
<circle cx="637.4" cy="374.6" r="2.65"/>
<circle cx="660.6" cy="373.3" r="2.65"/>
<circle cx="661.4" cy="380.5" r="2.65"/>
<circle cx="651.5" cy="381.3" r="2.65"/>
<circle cx="671.3" cy="377.9" r="2.65"/>
<circle cx="671.3" cy="382.1" r="2.65"/>
<circle cx="633.4" cy="383.1" r="2.65"/>
<circle cx="632.6" cy="387.6" r="2.65"/>
<circle cx="627.5" cy="388.4" r="2.65"/>
<circle cx="643.5" cy="380.0" r="2.65"/>
<circle cx="640.6" cy="384.5" r="2.65"/>
<circle cx="643.9" cy="385.1" r="2.65"/>
<circle cx="639.7" cy="389.3" r="2.65"/>
<circle cx="647.5" cy="389.3" r="2.65"/>
<circle cx="637.6" cy="394.3" r="2.65"/>
<circle cx="642.7" cy="395.4" r="2.65"/>
<circle cx="637.6" cy="397.7" r="2.65"/>
<circle cx="634.7" cy="400.2" r="2.65"/>
<circle cx="632.6" cy="402.3" r="2.65"/>
<circle cx="665.8" cy="389.0" r="2.65"/>
<circle cx="662.4" cy="393.5" r="2.65"/>
<circle cx="667.5" cy="399.4" r="2.65"/>
<circle cx="612.4" cy="391.4" r="2.65"/>
<circle cx="591.4" cy="392.2" r="2.65"/>
<circle cx="594.5" cy="395.4" r="2.65"/>
<circle cx="585.5" cy="405.3" r="2.65"/>
<circle cx="616.4" cy="403.3" r="2.65"/>
<circle cx="621.5" cy="408.4" r="2.65"/>
<circle cx="612.4" cy="411.4" r="2.65"/>
<circle cx="615.7" cy="411.4" r="2.65"/>
<circle cx="599.5" cy="415.4" r="2.65"/>
<circle cx="597.5" cy="419.0" r="2.65"/>
<circle cx="620.5" cy="418.3" r="2.65"/>
<circle cx="671.7" cy="412.4" r="2.65"/>
<circle cx="671.7" cy="417.5" r="2.65"/>
<circle cx="709.2" cy="316.3" r="2.65"/>
<circle cx="727.0" cy="313.7" r="2.65"/>
<circle cx="680.5" cy="319.5" r="2.65"/>
<circle cx="688.5" cy="320.5" r="2.65"/>
<circle cx="691.5" cy="319.5" r="2.65"/>
<circle cx="698.5" cy="319.5" r="2.65"/>
<circle cx="712.5" cy="319.5" r="2.65"/>
<circle cx="728.5" cy="318.5" r="2.65"/>
<circle cx="742.5" cy="317.3" r="2.65"/>
<circle cx="744.5" cy="321.5" r="2.65"/>
<circle cx="753.5" cy="316.5" r="2.65"/>
<circle cx="760.5" cy="318.5" r="2.65"/>
<circle cx="692.5" cy="325.5" r="2.65"/>
<circle cx="692.5" cy="328.5" r="2.65"/>
<circle cx="678.5" cy="329.5" r="2.65"/>
<circle cx="688.5" cy="331.5" r="2.65"/>
<circle cx="709.5" cy="328.5" r="2.65"/>
<circle cx="717.5" cy="332.3" r="2.65"/>
<circle cx="732.5" cy="326.5" r="2.65"/>
<circle cx="743.5" cy="326.0" r="2.65"/>
<circle cx="742.5" cy="330.7" r="2.65"/>
<circle cx="742.5" cy="333.7" r="2.65"/>
<circle cx="736.5" cy="333.5" r="2.65"/>
<circle cx="805.5" cy="327.3" r="2.65"/>
<circle cx="812.5" cy="327.3" r="2.65"/>
<circle cx="770.5" cy="336.5" r="2.65"/>
<circle cx="692.5" cy="336.5" r="2.65"/>
<circle cx="695.5" cy="340.5" r="2.65"/>
<circle cx="703.5" cy="337.5" r="2.65"/>
<circle cx="701.5" cy="340.5" r="2.65"/>
<circle cx="701.5" cy="342.5" r="2.65"/>
<circle cx="706.5" cy="345.5" r="2.65"/>
<circle cx="725.5" cy="339.5" r="2.65"/>
<circle cx="725.5" cy="347.5" r="2.65"/>
<circle cx="674.5" cy="346.5" r="2.65"/>
<circle cx="679.5" cy="347.5" r="2.65"/>
<circle cx="686.5" cy="345.5" r="2.65"/>
<circle cx="688.5" cy="345.0" r="2.65"/>
<circle cx="686.5" cy="349.5" r="2.65"/>
<circle cx="704.5" cy="352.5" r="2.65"/>
<circle cx="716.5" cy="352.5" r="2.65"/>
<circle cx="696.5" cy="356.3" r="2.65"/>
<circle cx="750.5" cy="343.5" r="2.65"/>
<circle cx="742.5" cy="346.5" r="2.65"/>
<circle cx="758.5" cy="344.5" r="2.65"/>
<circle cx="761.5" cy="343.5" r="2.65"/>
<circle cx="763.5" cy="343.5" r="2.65"/>
<circle cx="777.5" cy="342.5" r="2.65"/>
<circle cx="775.5" cy="347.5" r="2.65"/>
<circle cx="764.5" cy="355.3" r="2.65"/>
<circle cx="844.3" cy="357.5" r="2.65"/>
<circle cx="675.5" cy="362.3" r="2.65"/>
<circle cx="674.5" cy="366.5" r="2.65"/>
<circle cx="686.5" cy="361.5" r="2.65"/>
<circle cx="686.5" cy="366.5" r="2.65"/>
<circle cx="698.7" cy="361.0" r="2.65"/>
<circle cx="700.7" cy="362.0" r="2.65"/>
<circle cx="739.5" cy="360.3" r="2.65"/>
<circle cx="740.5" cy="366.5" r="2.65"/>
<circle cx="707.5" cy="369.3" r="2.65"/>
<circle cx="718.5" cy="368.3" r="2.65"/>
<circle cx="716.5" cy="372.3" r="2.65"/>
<circle cx="716.5" cy="374.3" r="2.65"/>
<circle cx="726.5" cy="375.5" r="2.65"/>
<circle cx="735.5" cy="373.3" r="2.65"/>
<circle cx="742.5" cy="373.3" r="2.65"/>
<circle cx="746.5" cy="376.5" r="2.65"/>
<circle cx="737.5" cy="378.3" r="2.65"/>
<circle cx="760.5" cy="378.3" r="2.65"/>
<circle cx="802.5" cy="363.3" r="2.65"/>
<circle cx="799.5" cy="367.3" r="2.65"/>
<circle cx="795.5" cy="371.3" r="2.65"/>
<circle cx="806.5" cy="377.3" r="2.65"/>
<circle cx="679.5" cy="373.3" r="2.65"/>
<circle cx="674.5" cy="374.3" r="2.65"/>
<circle cx="680.5" cy="383.3" r="2.65"/>
<circle cx="673.5" cy="387.3" r="2.65"/>
<circle cx="687.5" cy="389.5" r="2.65"/>
<circle cx="713.5" cy="386.5" r="2.65"/>
<circle cx="780.5" cy="390.3" r="2.65"/>
<circle cx="681.5" cy="395.3" r="2.65"/>
<circle cx="677.5" cy="397.3" r="2.65"/>
<circle cx="687.5" cy="397.3" r="2.65"/>
<circle cx="684.5" cy="400.3" r="2.65"/>
<circle cx="680.5" cy="404.3" r="2.65"/>
<circle cx="687.5" cy="404.3" r="2.65"/>
<circle cx="696.5" cy="397.3" r="2.65"/>
<circle cx="694.5" cy="401.3" r="2.65"/>
<circle cx="718.5" cy="394.3" r="2.65"/>
<circle cx="713.5" cy="397.3" r="2.65"/>
<circle cx="725.5" cy="400.3" r="2.65"/>
<circle cx="743.5" cy="397.3" r="2.65"/>
<circle cx="745.5" cy="400.3" r="2.65"/>
<circle cx="749.5" cy="401.3" r="2.65"/>
<circle cx="731.5" cy="407.3" r="2.65"/>
<circle cx="736.5" cy="406.3" r="2.65"/>
<circle cx="744.5" cy="410.3" r="2.65"/>
<circle cx="720.5" cy="412.3" r="2.65"/>
<circle cx="838.5" cy="406.3" r="2.65"/>
<circle cx="822.5" cy="416.3" r="2.65"/>
<circle cx="738.5" cy="419.0" r="2.65"/>
<circle cx="546.5" cy="423.5" r="2.65"/>
<circle cx="624.5" cy="425.2" r="2.65"/>
<circle cx="627.5" cy="424.3" r="2.65"/>
<circle cx="642.5" cy="422.3" r="2.65"/>
<circle cx="654.5" cy="425.5" r="2.65"/>
<circle cx="657.3" cy="422.3" r="2.65"/>
<circle cx="667.3" cy="427.5" r="2.65"/>
<circle cx="662.3" cy="430.5" r="2.65"/>
<circle cx="670.5" cy="431.5" r="2.65"/>
<circle cx="525.5" cy="433.5" r="2.65"/>
<circle cx="533.5" cy="431.5" r="2.65"/>
<circle cx="559.5" cy="429.3" r="2.65"/>
<circle cx="564.5" cy="430.5" r="2.65"/>
<circle cx="572.5" cy="431.5" r="2.65"/>
<circle cx="581.5" cy="439.3" r="2.65"/>
<circle cx="602.5" cy="432.5" r="2.65"/>
<circle cx="610.5" cy="431.5" r="2.65"/>
<circle cx="624.5" cy="438.5" r="2.65"/>
<circle cx="637.5" cy="434.3" r="2.65"/>
<circle cx="638.5" cy="443.5" r="2.65"/>
<circle cx="658.3" cy="438.5" r="2.65"/>
<circle cx="659.3" cy="442.5" r="2.65"/>
<circle cx="537.5" cy="452.5" r="2.65"/>
<circle cx="575.5" cy="453.5" r="2.65"/>
<circle cx="556.5" cy="459.5" r="2.65"/>
<circle cx="619.5" cy="452.5" r="2.65"/>
<circle cx="616.5" cy="455.5" r="2.65"/>
<circle cx="642.5" cy="458.5" r="2.65"/>
<circle cx="637.5" cy="460.5" r="2.65"/>
<circle cx="656.3" cy="452.5" r="2.65"/>
<circle cx="665.3" cy="466.3" r="2.65"/>
<circle cx="513.5" cy="467.3" r="2.65"/>
<circle cx="591.5" cy="468.5" r="2.65"/>
<circle cx="584.5" cy="482.5" r="2.65"/>
<circle cx="582.5" cy="507.3" r="2.65"/>
<circle cx="671.3" cy="503.3" r="2.65"/>
<circle cx="628.5" cy="527.3" r="2.65"/>
<circle cx="673.0" cy="430.3" r="2.65"/>
<circle cx="691.5" cy="427.5" r="2.65"/>
<circle cx="744.5" cy="428.5" r="2.65"/>
<circle cx="718.5" cy="431.5" r="2.65"/>
<circle cx="720.5" cy="436.5" r="2.65"/>
<circle cx="723.5" cy="436.5" r="2.65"/>
<circle cx="728.5" cy="439.3" r="2.65"/>
<circle cx="698.5" cy="438.5" r="2.65"/>
<circle cx="687.5" cy="441.5" r="2.65"/>
<circle cx="695.5" cy="445.5" r="2.65"/>
<circle cx="673.0" cy="452.5" r="2.65"/>
<circle cx="707.5" cy="453.5" r="2.65"/>
<circle cx="709.5" cy="457.5" r="2.65"/>
<circle cx="684.5" cy="460.5" r="2.65"/>
<circle cx="793.5" cy="452.5" r="2.65"/>
<circle cx="833.5" cy="453.5" r="2.65"/>
<circle cx="735.5" cy="471.3" r="2.65"/>
<circle cx="686.5" cy="487.5" r="2.65"/>
<circle cx="675.5" cy="540.5" r="2.65"/>
<circle cx="711.5" cy="539.5" r="2.65"/>
<circle cx="723.5" cy="535.5" r="2.65"/>
</g>
<path d="M523.5,290.5L529.5,296.5M523.5,296.5L529.5,290.5M495.8,300.3L501.8,306.3M495.8,306.3L501.8,300.3M541.5,307.3L547.5,313.3M541.5,313.3L547.5,307.3M519.5,383.5L525.5,389.5M519.5,389.5L525.5,383.5M604.5,431.5L610.5,437.5M604.5,437.5L610.5,431.5" stroke="#0000b2" stroke-width="2.15" fill="none"/>
<path d="M733.2,93.5V589.5" stroke="#000" stroke-opacity="0.09" stroke-width="1.6" fill="none"/>
<path d="M90.5,414.2H880.5" stroke="#000" stroke-opacity="0.09" stroke-width="1.6" fill="none"/>
<line x1="489.8" y1="93.5" x2="508.0" y2="589.5" stroke="#000" stroke-width="2.08"/>
<circle cx="347.5" cy="358.3" r="10.42" fill="#0000ff" stroke="#000" stroke-width="4.17"/>
<circle cx="651.6" cy="338.5" r="10.42" fill="#ff0000" stroke="#000" stroke-width="4.17"/>
<rect x="90.5" y="93.5" width="790.0" height="496.0" fill="none" stroke="#000" stroke-width="1.11"/>
<path d="M173.50,589.5v4.86M313.50,589.5v4.86M453.50,589.5v4.86M593.50,589.5v4.86M733.50,589.5v4.86M873.50,589.5v4.86M90.5,134.50h-4.86M90.5,190.50h-4.86M90.5,246.50h-4.86M90.5,302.50h-4.86M90.5,358.50h-4.86M90.5,414.50h-4.86M90.5,470.50h-4.86M90.5,526.50h-4.86M90.5,582.50h-4.86" stroke="#000" stroke-width="1.11" fill="none"/>
<g font-family="DejaVu Sans, Liberation Sans, sans-serif" font-size="13.89" fill="#000">
<text transform="translate(173.20,609.7) scale(0.972,1)" text-anchor="middle">−0.020</text>
<text transform="translate(313.20,609.7) scale(0.972,1)" text-anchor="middle">−0.015</text>
<text transform="translate(453.20,609.7) scale(0.972,1)" text-anchor="middle">−0.010</text>
<text transform="translate(593.20,609.7) scale(0.972,1)" text-anchor="middle">−0.005</text>
<text transform="translate(733.20,609.7) scale(0.972,1)" text-anchor="middle">0.000</text>
<text transform="translate(873.20,609.7) scale(0.972,1)" text-anchor="middle">0.005</text>
<text transform="translate(80.7,139.80) scale(0.975,1)" text-anchor="end">0.010</text>
<text transform="translate(80.7,195.80) scale(0.975,1)" text-anchor="end">0.008</text>
<text transform="translate(80.7,251.80) scale(0.975,1)" text-anchor="end">0.006</text>
<text transform="translate(80.7,307.80) scale(0.975,1)" text-anchor="end">0.004</text>
<text transform="translate(80.7,363.80) scale(0.975,1)" text-anchor="end">0.002</text>
<text transform="translate(80.7,419.80) scale(0.975,1)" text-anchor="end">0.000</text>
<text transform="translate(80.7,475.80) scale(0.975,1)" text-anchor="end">−0.002</text>
<text transform="translate(80.7,531.80) scale(0.975,1)" text-anchor="end">−0.004</text>
<text transform="translate(80.7,587.80) scale(0.975,1)" text-anchor="end">−0.006</text>
<text x="485.5" y="629.6" text-anchor="middle">I value [V]</text>
<text transform="translate(19.6,342.8) rotate(-90)" text-anchor="middle">Q value [V]</text>
</g>
<g font-family="DejaVu Sans, Liberation Sans, sans-serif" font-size="16.67" fill="#000" text-anchor="middle">
<text transform="translate(557.3,24.5) scale(0.995,1.09)">Readout Calibration</text>
<text transform="translate(554.3,45.0) scale(0.998,1.09)">tuid: 20260319-151511-611-4dff21</text>
</g>
<rect x="914.4" y="112.1" width="188" height="224.7" rx="5.5" ry="5.5" fill="#fff" stroke="#808080" stroke-width="1.39"/>
<g font-family="DejaVu Sans, Liberation Sans, sans-serif" font-size="13.89" fill="#000">
<text x="919.8" y="129.0">Sample means:</text>
<text x="919.8" y="148.3">|0⟩: -2.9227+2.7149j mV</text>
<text x="919.8" y="167.7">|1⟩: -13.786+2.0102j mV</text>
<text x="919.8" y="202.4">Discriminator:</text>
<text x="919.8" y="218.7">Threshold: 8.2616 mV</text>
<text x="919.8" y="237.4"><tspan font-style="italic">θ</tspan> from y-axis: 3.1048 rad</text>
<text x="919.8" y="271.7">Fidelity estimates:</text>
<text x="919.8" y="290.8">|0⟩: 98 %</text>
<text x="919.8" y="310.7">|1⟩: 99 %</text>
</g>
</svg>
</body></html>
